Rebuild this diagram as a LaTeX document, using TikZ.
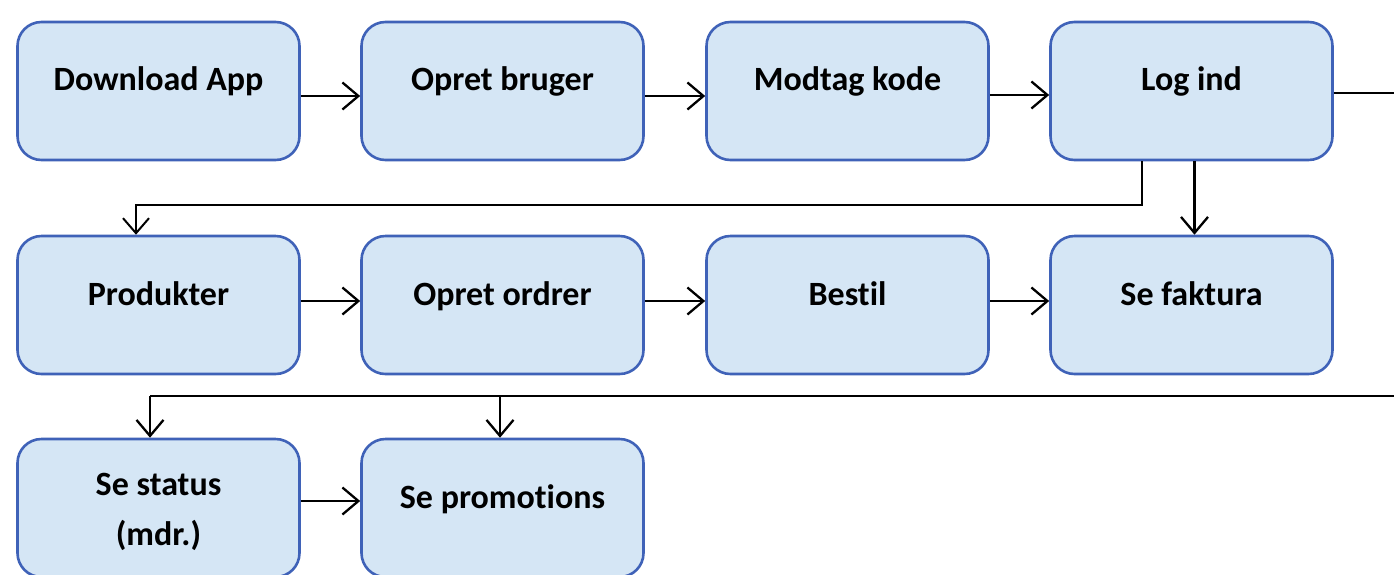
\documentclass[tikz,border=0pt]{standalone}
\usepackage{fontspec}
\setmainfont{Carlito}[Ligatures={NoCommon}]
\usetikzlibrary{arrows.meta,calc}
\definecolor{boxfill}{HTML}{D5E6F5}
\definecolor{boxline}{HTML}{3F62B8}
\begin{document}
\begin{tikzpicture}[x=1pt,y=-1pt,
  box/.style={draw=boxline,fill=boxfill,line width=2.6pt,rounded corners=24pt,
    minimum width=282pt,minimum height=138pt,inner sep=0pt},
  lbl/.style={font=\fontsize{34}{50}\selectfont\bfseries,align=center,inner sep=0pt},
  bl/.style={lbl,anchor=base},
  arr/.style={line width=2.3pt,-{Straight Barb[length=16pt,width=27pt,line width=2.3pt]}},
  conn/.style={line width=1.8pt}]
\useasboundingbox (0,0) rectangle (1394,574);
\clip (0,0) rectangle (1394,574);
\fill[white] (0,0) rectangle (1394,574);
% boxes
\node[box] (b1) at (158.5,91) {};
\node[box] (b2) at (502.5,91) {};
\node[box] (b3) at (847.5,91) {};
\node[box] (b4) at (1191.5,91) {};
\node[box] (c1) at (158.5,305) {};
\node[box] (c2) at (502.5,305) {};
\node[box] (c3) at (847.5,305) {};
\node[box] (c4) at (1191.5,305) {};
\node[box] (d1) at (158.5,508) {};
\node[box] (d2) at (502.5,508) {};
% labels
\node[bl] (t1) at (158.5,90) {Download App};
\node[bl] (t2) at (502.5,90) {Opret bruger};
\node[bl] (t3) at (847.5,90) {Modtag kode};
\node[bl] (t4) at (1191.5,90) {Log ind};
\node[bl] (u1) at (158.5,305) {Produkter};
\node[bl] (u2) at (502.5,305) {Opret ordrer};
\node[bl] (u3) at (847.5,305) {Bestil};
\node[bl] (u4) at (1191.5,305) {Se faktura};
\node[lbl] (v1) at (158.5,512) {Se status\\(mdr.)};
\node[bl] (v2) at (502.5,508) {Se promotions};
% horizontal arrows
\draw[arr] ($(b1.east)+(0,5)$) -- ($(b2.west)+(0,5)$);
\draw[arr] ($(b2.east)+(0,5)$) -- ($(b3.west)+(0,5)$);
\draw[arr] ($(b3.east)+(0,4)$) -- ($(b4.west)+(0,4)$);
\draw[arr] ($(c1.east)+(0,-4)$) -- ($(c2.west)+(0,-4)$);
\draw[arr] ($(c2.east)+(0,-4)$) -- ($(c3.west)+(0,-4)$);
\draw[arr] ($(c3.east)+(0,-4)$) -- ($(c4.west)+(0,-4)$);
\draw[arr] ($(d1.east)+(0,-7)$) -- ($(d2.west)+(0,-7)$);
% Log ind -> Se faktura
\draw[arr] ($(b4.south)+(3,0)$) -- ($(c4.north)+(3,0)$);
% Log ind -> Produkter
\coordinate (k1) at (1142,205);
\draw[conn,-{Straight Barb[length=15pt,width=26pt,line width=2pt]}]
  (b4.south -| k1) -- (k1) -- (136,205) -- (c1.north -| 136,0);
% Log ind -> bottom row
\coordinate (r1) at (1402,93);
\coordinate (r2) at (1402,396);
\draw[conn] ($(b4.east)+(0,2)$) -- (r1) -- (r2) -- (150,396);
\draw[arr] (150,396) -- (d1.north -| 150,0);
\draw[arr] (500,396) -- (d2.north -| 500,0);
\end{tikzpicture}
\end{document}
